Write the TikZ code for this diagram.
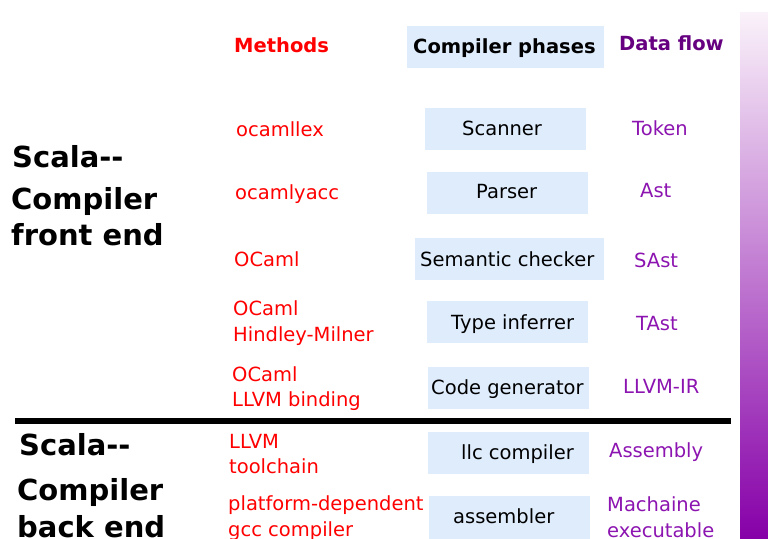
\documentclass[tikz,border=0pt]{standalone}
\usepackage{fontspec}
\setmainfont{DejaVu Sans}
\definecolor{boxblue}{RGB}{222,236,252}
\definecolor{methred}{RGB}{255,0,0}
\definecolor{flowpurple}{RGB}{140,20,176}
\definecolor{headpurple}{RGB}{102,0,128}
\definecolor{bartop}{RGB}{250,242,250}
\definecolor{barbot}{RGB}{134,0,168}
\begin{document}
\begin{tikzpicture}[x=1pt,y=-1pt,
  txt/.style={anchor=base west,inner sep=0pt,font=\fontsize{19.5}{25}\selectfont},
  big/.style={anchor=base west,inner sep=0pt,font=\fontsize{29}{36}\selectfont\bfseries},
  meth/.style={txt,text=methred},
  flow/.style={txt,text=flowpurple},
  phase/.style={txt,text=black},
  pbox/.style={anchor=north west,inner sep=0pt,fill=boxblue,draw=none}]
\useasboundingbox (0,0) rectangle (768,538);
% gradient bar
\node[anchor=north west,inner sep=0pt,minimum width=28pt,minimum height=526pt,
  top color=bartop,bottom color=barbot,draw=none] (bar) at (740,12) {};
% boxes
\node[pbox,minimum width=197pt,minimum height=42pt] (bhead) at (407,26) {};
\node[pbox,minimum width=161pt,minimum height=42pt] (b1) at (425,108) {};
\node[pbox,minimum width=161pt,minimum height=42pt] (b2) at (427,172) {};
\node[pbox,minimum width=189pt,minimum height=42pt] (b3) at (415,238) {};
\node[pbox,minimum width=161pt,minimum height=42pt] (b4) at (427,301) {};
\node[pbox,minimum width=161pt,minimum height=42pt] (b5) at (428,367) {};
\node[pbox,minimum width=161pt,minimum height=42pt] (b6) at (428,432) {};
\node[pbox,minimum width=161pt,minimum height=45pt] (b7) at (429,496) {};
% headings
\node[meth,font=\fontsize{19.5}{25}\selectfont\bfseries] (hm) at (234,52) {Methods};
\node[phase,font=\fontsize{19.5}{25}\selectfont\bfseries] (hp) at (413,53) {Compiler phases};
\node[txt,text=headpurple,font=\fontsize{19.5}{25}\selectfont\bfseries] (hf) at (619,50) {Data flow};
% big labels
\node[big] (f1) at (12,167) {Scala{-}{-}};
\node[big] (f2) at (11,209) {Compiler};
\node[big] (f3) at (11,245) {front end};
\node[big] (k1) at (19,455) {Scala{-}{-}};
\node[big] (k2) at (17,500) {Compiler};
\node[big] (k3) at (17,537) {back end};
% methods
\node[meth] (m1) at (236,136) {ocamllex};
\node[meth] (m2) at (235,199) {ocamlyacc};
\node[meth] (m3) at (234,266) {OCaml};
\node[meth] (m4a) at (233,315) {OCaml};
\node[meth] (m4b) at (233,341) {Hindley-Milner};
\node[meth] (m5a) at (232,381) {OCaml};
\node[meth] (m5b) at (232,406) {LLVM binding};
\node[meth] (m6a) at (229,448) {LLVM};
\node[meth] (m6b) at (229,473) {toolchain};
\node[meth] (m7a) at (228,510) {platform-dependent};
\node[meth] (m7b) at (228,536) {gcc compiler};
% phases
\node[phase] (p1) at (462,135) {Scanner};
\node[phase] (p2) at (476,198) {Parser};
\node[phase] (p3) at (420,266) {Semantic checker};
\node[phase] (p4) at (451,329) {Type inferrer};
\node[phase] (p5) at (431,394) {Code generator};
\node[phase] (p6) at (461,459) {llc compiler};
\node[phase] (p7) at (453,523) {assembler};
% data flow
\node[flow] (d1) at (632,135) {Token};
\node[flow] (d2) at (640,197) {Ast};
\node[flow] (d3) at (634,267) {SAst};
\node[flow] (d4) at (636,330) {TAst};
\node[flow] (d5) at (623,393) {LLVM-IR};
\node[flow] (d6) at (609,457) {Assembly};
\node[flow] (d7a) at (607,511) {Machaine};
\node[flow] (d7b) at (607,537) {executable};
% separator
\coordinate (sl) at (15,421);
\coordinate (sr) at (731,421);
\draw[line width=5.5pt] (sl) -- (sr);
\end{tikzpicture}
\end{document}
